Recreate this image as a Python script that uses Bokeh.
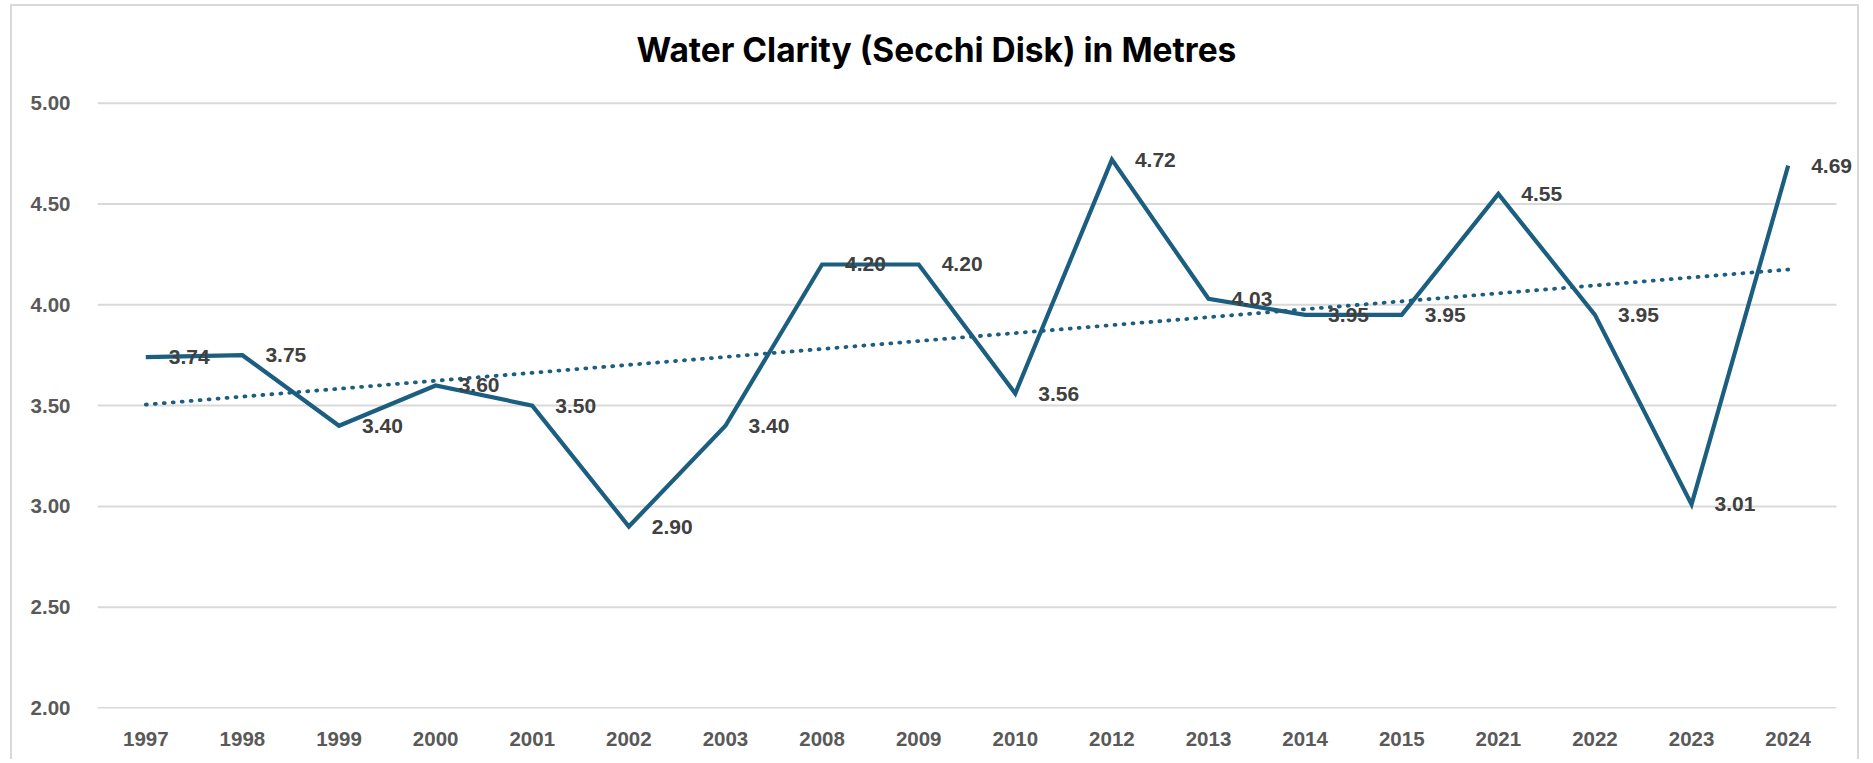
from bokeh.plotting import figure
from bokeh.models import Range1d, FixedTicker, NumeralTickFormatter, Label
from bokeh.embed import file_html
from bokeh.resources import INLINE

years = ["1997", "1998", "1999", "2000", "2001", "2002", "2003", "2008", "2009",
         "2010", "2012", "2013", "2014", "2015", "2021", "2022", "2023", "2024"]
clarity = [3.74, 3.75, 3.40, 3.60, 3.50, 2.90, 3.40, 4.20, 4.20,
           3.56, 4.72, 4.03, 3.95, 3.95, 4.55, 3.95, 3.01, 4.69]
trend_years = ["1997", "2024"]
trend_values = [3.505, 4.175]
y_ticks = [2.0, 2.5, 3.0, 3.5, 4.0, 4.5, 5.0]
labels = ["%.2f" % v for v in clarity]
title_text = "Water Clarity (Secchi Disk) in Metres"

LINE = "#1b5e7f"
GRID = "#d9d9d9"

pos = list(range(len(years)))             # category slots on the x scale
trend_pos = [years.index(y) for y in trend_years]

p = figure(x_range=Range1d(-0.5, 17.759), y_range=Range1d(1.9975, 5.4797),
           width=1849, height=755, output_backend="svg", toolbar_location=None,
           min_border_left=85, min_border_right=0, min_border_top=0, min_border_bottom=53)
p.styles = {"margin-left": "10px", "margin-top": "4px",
            "border-left": "2px solid #d9d9d9", "border-right": "2px solid #d9d9d9",
            "border-top": "2px solid #d9d9d9"}
p.outline_line_color = None
p.background_fill_color = "white"
p.border_fill_color = "white"
p.grid.visible = False

# horizontal gridlines spanning the category slots only
p.segment(x0=[-0.5] * len(y_ticks), x1=[len(years) - 0.5] * len(y_ticks),
          y0=y_ticks, y1=y_ticks, line_color=GRID, line_width=2)

p.yaxis.ticker = FixedTicker(ticks=y_ticks)
p.yaxis.formatter = NumeralTickFormatter(format="0.00")
p.xaxis.ticker = FixedTicker(ticks=pos)
p.xaxis.major_label_overrides = {i: y for i, y in zip(pos, years)}

for ax in (p.xaxis[0], p.yaxis[0]):
    ax.axis_line_color = None
    ax.major_tick_line_color = None
    ax.minor_tick_line_color = None
    ax.major_tick_out = 0
    ax.major_tick_in = 0
    ax.major_label_text_font = "Liberation Sans"
    ax.major_label_text_font_style = "bold"
    ax.major_label_text_font_size = "20.5px"
    ax.major_label_text_color = "#595959"
p.yaxis.major_label_standoff = 27
p.xaxis.major_label_standoff = 23

p.line(x=trend_pos, y=trend_values, line_color=LINE, line_width=3.8,
       line_dash="1 8", line_cap="round")
p.line(x=pos, y=clarity, line_color=LINE, line_width=4.2, line_join="miter")

for i, val, txt in zip(pos, clarity, labels):
    p.add_layout(Label(x=i, y=val, text=txt, x_offset=23,
                       text_align="left", text_baseline="middle",
                       text_font="Liberation Sans", text_font_style="bold",
                       text_font_size="21px", text_color="#404040"))

p.add_layout(Label(x=8.184, y=5.264, text=title_text, text_align="center",
                   text_baseline="middle", text_font="Inter", text_font_style="bold",
                   text_font_size="33.5px", text_color="#000000"))

open("out.html", "w").write(file_html(p, INLINE))
